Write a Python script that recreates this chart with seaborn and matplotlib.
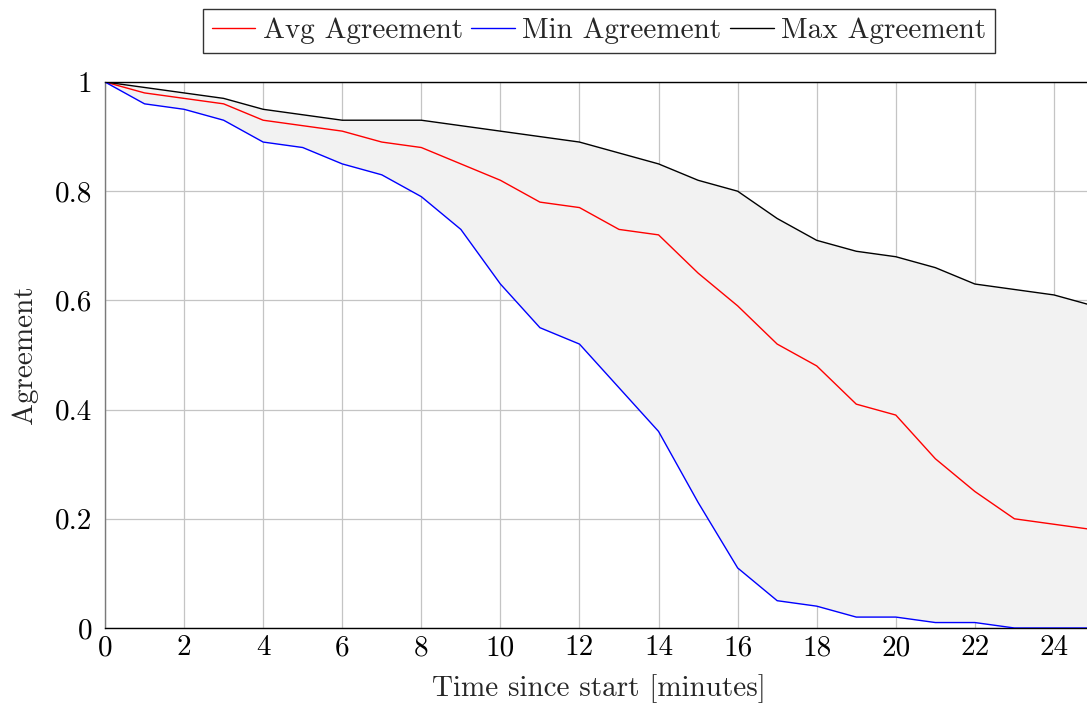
import numpy as np
import pandas as pd
import matplotlib
matplotlib.use("Agg")
import matplotlib.pyplot as plt
import seaborn as sns

minutes = list(range(26))
avg_agreement = [1.00, 0.98, 0.97, 0.96, 0.93, 0.92, 0.91, 0.89, 0.88, 0.85,
                 0.82, 0.78, 0.77, 0.73, 0.72, 0.65, 0.59, 0.52, 0.48, 0.41,
                 0.39, 0.31, 0.25, 0.20, 0.19, 0.18]
min_agreement = [1.00, 0.96, 0.95, 0.93, 0.89, 0.88, 0.85, 0.83, 0.79, 0.73,
                 0.63, 0.55, 0.52, 0.44, 0.36, 0.23, 0.11, 0.05, 0.04, 0.02,
                 0.02, 0.01, 0.01, 0.00, 0.00, 0.00]
max_agreement = [1.00, 0.99, 0.98, 0.97, 0.95, 0.94, 0.93, 0.93, 0.93, 0.92,
                 0.91, 0.90, 0.89, 0.87, 0.85, 0.82, 0.80, 0.75, 0.71, 0.69,
                 0.68, 0.66, 0.63, 0.62, 0.61, 0.59]
x_ticks = [0, 2, 4, 6, 8, 10, 12, 14, 16, 18, 20, 22, 24]
y_ticks = [0, 0.2, 0.4, 0.6, 0.8, 1.0]
y_tick_labels = ["0", "0.2", "0.4", "0.6", "0.8", "1"]

sns.set_style("white")
plt.rcParams["font.family"] = ["cmr10", "DejaVu Serif"]
plt.rcParams["axes.formatter.use_mathtext"] = True

df = pd.DataFrame({
    "minute": minutes * 3,
    "agreement": avg_agreement + min_agreement + max_agreement,
    "series": (["Avg Agreement"] * 26 + ["Min Agreement"] * 26
               + ["Max Agreement"] * 26),
})

FS = 21
W, H = 1087, 705
fig = plt.figure(figsize=(W / 100, H / 100), dpi=100)
left, right, top, bottom = 105, 1093.5, 82, 628
ax = fig.add_axes([left / W, 1 - bottom / H, (right - left) / W, (bottom - top) / H])

ax.fill_between(minutes, min_agreement, max_agreement, color="#f2f2f2",
                linewidth=0, zorder=1)
sns.lineplot(data=df, x="minute", y="agreement", hue="series",
             palette={"Avg Agreement": "#ff0000", "Min Agreement": "#0000ff",
                      "Max Agreement": "#000000"},
             linewidth=1.0, ax=ax, zorder=3)

ax.set_xlim(0, 25)
ax.set_ylim(0, 1)
ax.set_xticks(x_ticks)
ax.set_xticklabels([str(t) for t in x_ticks])
ax.set_yticks(y_ticks)
ax.set_yticklabels(y_tick_labels)
ax.grid(True, color="#c4c4c4", linewidth=0.9, zorder=0)
ax.set_axisbelow(True)
for s in ax.spines.values():
    s.set_color("black")
    s.set_linewidth(1.0)
ax.spines["left"].set_color("#7a7a7a")
ax.tick_params(axis="both", direction="in", length=5, width=0.8,
               color="#808080", labelsize=FS, labelcolor="black")
ax.tick_params(axis="x", pad=5)
ax.tick_params(axis="y", pad=9)

ax.set_xlabel("Time since start [minutes]", fontsize=FS, labelpad=9)
ax.set_ylabel("Agreement", fontsize=FS, labelpad=12)

handles, labels = ax.get_legend_handles_labels()
leg = ax.legend(handles, labels, loc="lower center",
                bbox_to_anchor=(599 / W, 1 - 53 / H), bbox_transform=fig.transFigure,
                ncol=3, fontsize=FS, frameon=True, fancybox=False,
                handlelength=1.5, handletextpad=0.25, columnspacing=0.3,
                borderpad=0.3, borderaxespad=0)
leg.get_frame().set_edgecolor("black")
leg.get_frame().set_linewidth(1.0)

fig.savefig("out.png", dpi=100)
